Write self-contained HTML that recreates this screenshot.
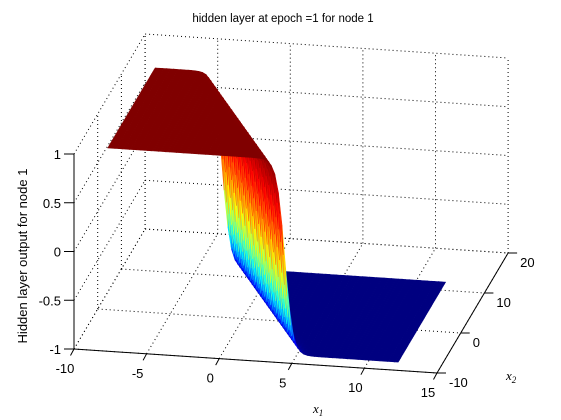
<!DOCTYPE html>
<html><head><meta charset="utf-8"><style>
html,body{margin:0;padding:0;background:#fff;}
svg{display:block;font-family:"Liberation Sans",sans-serif;}
</style></head><body>
<svg id="chart" width="561" height="420" viewBox="0 0 561 420" xmlns="http://www.w3.org/2000/svg">
<rect width="561" height="420" fill="#fff"/>
<text x="283" y="22" font-size="11.5" text-anchor="middle">hidden layer at epoch =1 for node 1</text>
<g id="grid"></g>
<g id="surf"></g>
<g id="axes"></g>
<text transform="translate(27,256) rotate(-90)" font-size="13" text-anchor="middle">Hidden layer output for node 1</text>
<text x="313" y="413" font-size="13" font-style="italic" font-family="Liberation Serif,serif">x<tspan font-size="9" dy="3">1</tspan></text>
<text x="506" y="380" font-size="13" font-style="italic" font-family="Liberation Serif,serif">x<tspan font-size="9" dy="3">2</tspan></text>
</svg>
<script>
// axis ticks / labels
const xTicks = [-10, -5, 0, 5, 10, 15];
const yTicks = [-10, 0, 10, 20];
const zTicks = [-1, -0.5, 0, 0.5, 1];
const zTickLabels = ["-1", "-0.5", "0", "0.5", "1"];
// surface domain and model weights: z = tanh(w1*x + w2*y + b)
const xRange = [-8, 12];
const yRange = [-8, 12];
const gridStep = [0.25, 0.5];
const weights = [-1.8, -0.68, 2.1];

const NS = "http://www.w3.org/2000/svg";
function P(x, y, z) {
  return [74 + (x + 10) * 14.52 + (y + 10) * 2.37,
          349 + (x + 10) * 0.96 - (y + 10) * 4.0 - (z + 1) * 97.5];
}
function mk(tag, attrs, parent) {
  const e = document.createElementNS(NS, tag);
  for (const k in attrs) e.setAttribute(k, attrs[k]);
  parent.appendChild(e);
  return e;
}
const grid = document.getElementById('grid');
const axes = document.getElementById('axes');
function gl(a, b) {
  const p = P(...a), q = P(...b);
  const l = mk('line', {x1: p[0], y1: p[1], x2: q[0], y2: q[1], stroke: '#000', 'stroke-width': 1, 'stroke-dasharray': '1,3'}, grid);
  
  
}
const X0 = xTicks[0], X1 = xTicks[xTicks.length - 1];
const Y0 = yTicks[0], Y1 = yTicks[yTicks.length - 1];
const Z0 = zTicks[0], Z1 = zTicks[zTicks.length - 1];
xTicks.forEach(x => { gl([x, Y1, Z0], [x, Y1, Z1]); gl([x, Y0, Z0], [x, Y1, Z0]); });
yTicks.forEach(y => { gl([X0, y, Z0], [X0, y, Z1]); gl([X0, y, Z0], [X1, y, Z0]); });
zTicks.forEach(z => { gl([X0, Y1, z], [X1, Y1, z]); gl([X0, Y0, z], [X0, Y1, z]); });

// surface
function jet(v) {
  const t = Math.max(0, Math.min(1, (v + 1) / 2)) * 4;
  const c = f => Math.round(255 * Math.max(0, Math.min(1, f)));
  const r = c(Math.min(t - 1.5, -t + 4.5)), g = c(Math.min(t - 0.5, -t + 3.5)), b = c(Math.min(t + 0.5, -t + 2.5));
  return `rgb(${r},${g},${b})`;
}
const surf = document.getElementById('surf');
const f = (x, y) => Math.tanh(weights[0] * x + weights[1] * y + weights[2]);
const sx = gridStep[0], sy = gridStep[1];
const quads = [];
for (let x = xRange[0]; x < xRange[1] - 1e-9; x += sx) {
  for (let y = yRange[0]; y < yRange[1] - 1e-9; y += sy) {
    const pts = [[x, y], [x + sx, y], [x + sx, y + sy], [x, y + sy]].map(([a, b]) => [a, b, f(a, b)]);
    const zc = pts.reduce((s, p) => s + p[2], 0) / 4;
    const depth = -0.22 * (x + sx / 2 + 10) / 25 - 0.84 * (y + sy / 2 + 10) / 30 + 0.5 * (zc + 1) / 2;
    quads.push({pts, c: jet(pts[0][2]), depth});
  }
}
quads.sort((a, b) => a.depth - b.depth);
quads.forEach(q => {
  const d = q.pts.map(p => P(...p).map(v => v.toFixed(1)).join(',')).join(' ');
  const el = mk('polygon', {points: d, fill: q.c, stroke: q.c, 'stroke-width': 0.6}, surf);
  
  
});

// axes lines
function al(a, b, name) {
  const p = P(...a), q = P(...b);
  const l = mk('line', {x1: p[0], y1: p[1], x2: q[0], y2: q[1], stroke: '#000', 'stroke-width': 1}, axes);
  
  
}
al([X0, Y0, Z0], [X0, Y0, Z1], 'z-axis-line');
al([X0, Y0, Z0], [X1, Y0, Z0], 'x-axis-line');
al([X1, Y0, Z0], [X1, Y1, Z0], 'y-axis-line');
function tl(x1, y1, x2, y2) {
  const l = mk('line', {x1, y1, x2, y2, stroke: '#000', 'stroke-width': 1}, axes);
  
  
}
function lbl(x, y, s, anchor, name) {
  const t = mk('text', {x, y, 'font-size': 13, 'text-anchor': anchor}, axes);
  t.textContent = s;
  
  
}
zTicks.forEach((z, i) => {
  const p = P(X0, Y0, z);
  tl(p[0] - 10, p[1], p[0], p[1]);
  lbl(p[0] - 13, p[1] + 5, zTickLabels[i], 'end', 'z-tick-label');
});
xTicks.forEach(x => {
  const p = P(x, Y0, Z0);
  tl(p[0], p[1], p[0] - 3.5, p[1] + 6.5);
  lbl(p[0] - 9, p[1] + 24, String(x), 'middle', 'x-tick-label');
});
yTicks.forEach(y => {
  const p = P(X1, y, Z0);
  tl(p[0], p[1], p[0] + 9, p[1]);
  lbl(p[0] + 12, p[1] + 14, String(y), 'start', 'y-tick-label');
});
</script>
</body></html>
